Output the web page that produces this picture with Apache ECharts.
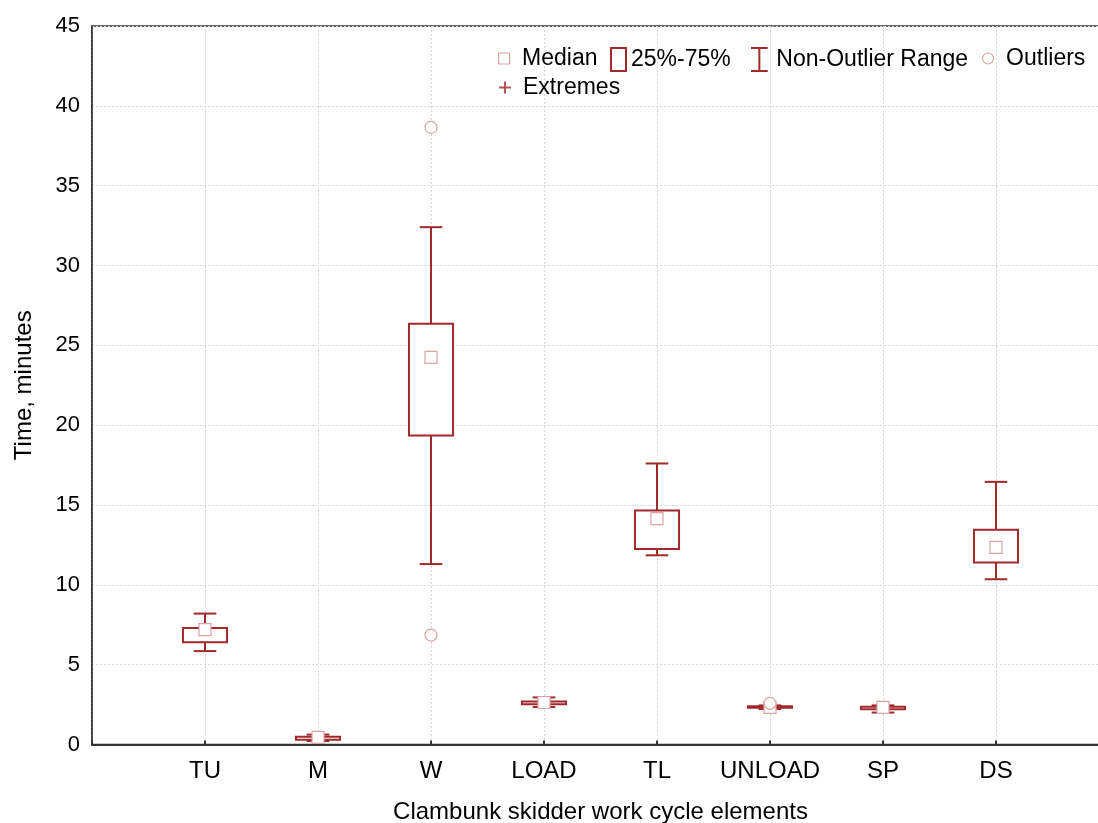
<!DOCTYPE html>
<html>
<head>
<meta charset="utf-8">
<script src="https://cdn.jsdelivr.net/npm/echarts@6/dist/echarts.min.js"></script>
<style>
  html, body { margin: 0; padding: 0; background: #fff; }
  #chart { width: 1098px; height: 823px; }
</style>
</head>
<body>
<div id="chart"></div>
<script>
// work cycle elements
var categories = ['TU', 'M', 'W', 'LOAD', 'TL', 'UNLOAD', 'SP', 'DS'];
// non-outlier range and quartiles, minutes
var minVals    = [5.85, 0.22, 11.3, 2.35, 11.85, 2.22, 2.0, 10.35];
var q1Vals     = [6.4, 0.3, 19.35, 2.52, 12.25, 2.3, 2.2, 11.4];
var medianVals = [7.2, 0.45, 24.25, 2.63, 14.15, 2.32, 2.32, 12.35];
var q3Vals     = [7.3, 0.48, 26.35, 2.7, 14.65, 2.4, 2.36, 13.45];
var maxVals    = [8.2, 0.62, 32.4, 2.95, 17.6, 2.45, 2.45, 16.45];
// outliers [element, value]
var outliers = [['W', 38.65], ['W', 6.85], ['UNLOAD', 2.58]];
var extremes = [];
var yTicks = { min: 0, max: 45, step: 5 };

var DARK = '#a0292b';
var PINK = '#d9a3a5';
var FONT = 'Liberation Sans, Arial, sans-serif';

// empty slot at both ends, like the original plot
var xLabels = [''].concat(categories, ['']);

var boxData = categories.map(function (c, i) { return [c, q1Vals[i], q3Vals[i]]; });
var whiskerData = categories.map(function (c, i) {
  return [c, minVals[i], q1Vals[i], q3Vals[i], maxVals[i]];
});
var medianData = categories.map(function (c, i) { return [c, medianVals[i]]; });

function renderBox(params, api) {
  var x = api.value(0);
  var lo = api.coord([x, api.value(1)]);
  var hi = api.coord([x, api.value(2)]);
  var half = api.size([1, 0])[0] * 0.195;
  return {
    type: 'rect',
    shape: { x: lo[0] - half, y: hi[1], width: half * 2, height: Math.max(lo[1] - hi[1], 1) },
    style: { fill: '#fff', stroke: DARK, lineWidth: 2 }
  };
}

function renderWhisker(params, api) {
  var x = api.value(0);
  var pMin = api.coord([x, api.value(1)]);
  var pQ1 = api.coord([x, api.value(2)]);
  var pQ3 = api.coord([x, api.value(3)]);
  var pMax = api.coord([x, api.value(4)]);
  var cap = api.size([1, 0])[0] * 0.1;
  var st = { stroke: DARK, lineWidth: 2 };
  return {
    type: 'group',
    children: [
      { type: 'line', shape: { x1: pMin[0], y1: pMin[1], x2: pQ1[0], y2: pQ1[1] }, style: st },
      { type: 'line', shape: { x1: pQ3[0], y1: pQ3[1], x2: pMax[0], y2: pMax[1] }, style: st },
      { type: 'line', shape: { x1: pMin[0] - cap, y1: pMin[1], x2: pMin[0] + cap, y2: pMin[1] }, style: st },
      { type: 'line', shape: { x1: pMax[0] - cap, y1: pMax[1], x2: pMax[0] + cap, y2: pMax[1] }, style: st }
    ]
  };
}

function legendItem(name, left, top, w, h, icon, style) {
  return {
    data: [{ name: name, icon: icon, itemStyle: style }],
    left: left, top: top, itemWidth: w, itemHeight: h,
    padding: 0, itemGap: 0, selectedMode: false,
    textStyle: { fontFamily: FONT, fontSize: 23, color: '#000' }
  };
}

var chart = echarts.init(document.getElementById('chart'));
chart.setOption({
  animation: false,
  backgroundColor: '#fff',
  legend: [
    legendItem('Median', 498, 47, 26, 11, 'path://M0,0H10V10H0Z',
      { color: '#fff', borderColor: PINK, borderWidth: 1.2 }),
    legendItem('25%-75%', 610, 47, 15, 23, 'path://M0,0H15V23H0Z',
      { color: '#fff', borderColor: DARK, borderWidth: 2 }),
    legendItem('Non-Outlier Range', 750, 47, 24, 23, 'path://M0,0H16M8,0V22M0,22H16',
      { color: 'rgba(0,0,0,0)', borderColor: DARK, borderWidth: 2 }),
    legendItem('Outliers', 982, 47, 26, 11, 'circle',
      { color: '#fff', borderColor: PINK, borderWidth: 1.2 }),
    legendItem('Extremes', 498, 76, 26, 12, 'path://M0,5H10M5,0V10',
      { color: 'rgba(0,0,0,0)', borderColor: DARK, borderWidth: 2 })
  ],
  grid: {
    left: 92, top: 26, width: 1017, height: 718.5,
    outerBoundsMode: 'none',
    show: true, borderColor: '#333', borderWidth: 1.5
  },
  xAxis: {
    type: 'category',
    data: xLabels,
    boundaryGap: false,
    name: 'Clambunk skidder work cycle elements',
    nameLocation: 'middle',
    nameGap: 56,
    nameTextStyle: { fontFamily: FONT, fontSize: 24, color: '#000' },
    axisLine: { lineStyle: { color: '#333', width: 2 } },
    axisTick: { inside: true, length: 4, interval: 0, lineStyle: { color: '#333', width: 2 } },
    axisLabel: { interval: 0, margin: 15, fontFamily: FONT, fontSize: 24, color: '#000' },
    splitLine: { show: true, interval: 0, lineStyle: { color: '#d6d6d6', type: [2, 2] } }
  },
  yAxis: {
    type: 'value',
    min: yTicks.min, max: yTicks.max, interval: yTicks.step,
    name: 'Time, minutes',
    nameLocation: 'middle',
    nameGap: 56,
    nameRotate: 90,
    nameTextStyle: { fontFamily: FONT, fontSize: 24, color: '#000' },
    axisLine: { show: true, lineStyle: { color: '#333', width: 1.5 } },
    axisTick: { show: false },
    axisLabel: { margin: 12, fontFamily: FONT, fontSize: 22, color: '#000' },
    splitLine: { show: true, lineStyle: { color: '#d6d6d6', type: [2, 2] } }
  },
  series: [
    {
      name: 'Non-Outlier Range', type: 'custom', z: 3,
      renderItem: renderWhisker, data: whiskerData,
      encode: { x: 0, y: [1, 2, 3, 4] }, itemStyle: { color: DARK }
    },
    {
      name: '25%-75%', type: 'custom', z: 4,
      renderItem: renderBox, data: boxData,
      encode: { x: 0, y: [1, 2] }, itemStyle: { color: DARK }
    },
    {
      name: 'Median', type: 'scatter', z: 5,
      data: medianData, symbol: 'rect', symbolSize: 12,
      itemStyle: { color: '#fff', borderColor: PINK, borderWidth: 1.2, opacity: 1 }
    },
    {
      name: 'Outliers', type: 'scatter', z: 6,
      data: outliers, symbol: 'circle', symbolSize: 12,
      itemStyle: { color: '#fff', borderColor: PINK, borderWidth: 1.2, opacity: 1 }
    },
    {
      name: 'Extremes', type: 'scatter', z: 6,
      data: extremes, symbol: 'path://M0,5H10M5,0V10', symbolSize: 10,
      itemStyle: { color: DARK }
    }
  ]
});
</script>
</body>
</html>
